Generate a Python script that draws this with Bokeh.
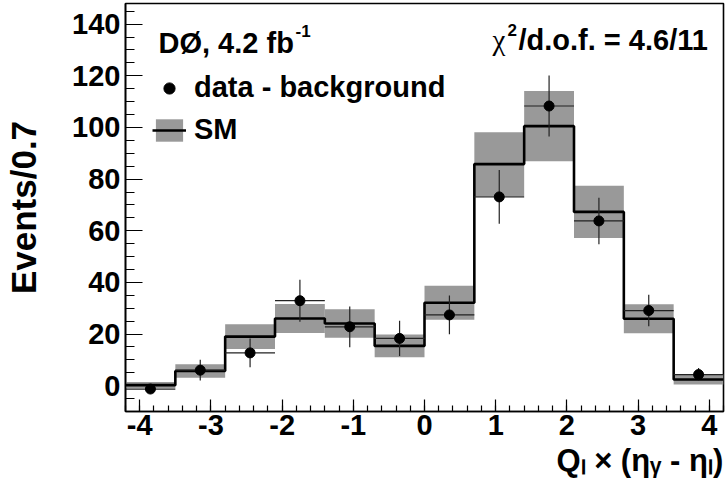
import math

from bokeh.embed import file_html
from bokeh.models import (Axis, ColumnDataSource, Label, Legend, LegendItem,
                          PrintfTickFormatter, SingleIntervalTicker)
from bokeh.plotting import figure
from bokeh.resources import INLINE

# Bin edges of the Q_l x (eta_gamma - eta_l) distribution (width 0.7)
edges = [-4.2, -3.5, -2.8, -2.1, -1.4, -0.7, 0.0, 0.7, 1.4, 2.1, 2.8, 3.5, 4.2]

# Standard Model prediction and its uncertainty band (half width)
sm = [0.2, 5.7, 19.0, 26.0, 24.1, 15.4, 32.1, 85.8, 100.5, 67.3, 25.9, 2.4]
sm_err = [1.2, 2.6, 4.8, 5.6, 5.5, 4.4, 6.6, 12.3, 13.6, 10.1, 5.6, 1.9]

# Background-subtracted data and statistical errors
data = [-1.3, 6.0, 12.7, 32.9, 22.8, 18.3, 27.4, 73.1, 108.3, 63.8, 29.1, 4.3]
data_err = [1.0, 4.0, 5.6, 8.1, 7.9, 6.8, 7.5, 10.4, 11.8, 9.0, 6.1, 2.5]

x_ticks_interval = 1
y_ticks_interval = 20

lefts = edges[:-1]
rights = edges[1:]
centers = [(a + b) / 2 for a, b in zip(lefts, rights)]

band = ColumnDataSource(dict(
    left=lefts, right=rights,
    bottom=[v - e for v, e in zip(sm, sm_err)],
    top=[v + e for v, e in zip(sm, sm_err)],
))
pts = ColumnDataSource(dict(
    x=centers, y=data, left=lefts, right=rights,
    lo=[v - e for v, e in zip(data, data_err)],
    hi=[v + e for v, e in zip(data, data_err)],
))

FONT = "Liberation Sans"
GREEK = "Liberation Serif"
TXT = "29px"

p = figure(
    width=725, height=494,
    x_range=(-4.2, 4.2), y_range=(-10, 148),
    output_backend="svg", toolbar_location=None,
    min_border_left=125, min_border_right=2,
    min_border_top=3, min_border_bottom=83,
    background_fill_color="white", border_fill_color="white",
)
p.grid.visible = False
p.outline_line_color = "black"
p.outline_line_width = 1.6

# Axes: ticks drawn inside the frame, ROOT-like bold labels
for ax in (p.xaxis[0], p.yaxis[0]):
    ax.axis_line_color = "black"
    ax.axis_line_width = 1.6
    ax.major_tick_line_color = "black"
    ax.minor_tick_line_color = "black"
    ax.major_tick_line_width = 1.2
    ax.minor_tick_line_width = 1.2
    ax.major_tick_out = 0
    ax.minor_tick_out = 0
    ax.major_label_text_font = FONT
    ax.major_label_text_font_style = "bold"
    ax.major_label_text_font_size = TXT
    ax.major_label_text_color = "black"
    ax.formatter = PrintfTickFormatter(format="%d")
    ax.axis_label_text_font = FONT
    ax.axis_label_text_font_style = "bold"
    ax.axis_label_text_color = "black"

p.xaxis.ticker = SingleIntervalTicker(interval=x_ticks_interval, num_minor_ticks=5)
p.yaxis.ticker = SingleIntervalTicker(interval=y_ticks_interval, num_minor_ticks=4)
p.xaxis.major_tick_in = 12
p.xaxis.minor_tick_in = 6
p.yaxis.major_tick_in = 17
p.yaxis.minor_tick_in = 9
p.xaxis.major_label_standoff = 3
p.yaxis.major_label_standoff = 5

p.yaxis.axis_label = "Events/0.7"
p.yaxis.axis_label_text_font_size = "35px"
p.yaxis.axis_label_standoff = 26

# x title is centred on the axis; leading no-break spaces push the visible
# text to the right end of the axis while the whole box stays on the canvas
x_title = "Q\u2097 \u00d7 (\u03b7\u1d67 - \u03b7\u2097)"
p.xaxis.axis_label = "\u00a0" * 50 + x_title
p.xaxis.axis_label_text_font_size = "31px"
p.xaxis.axis_label_standoff = 5
if "axis_label_align" in Axis.properties():
    p.xaxis.axis_label_align = "center"

# SM uncertainty band and central histogram
band_r = p.quad(left="left", right="right", bottom="bottom", top="top",
                source=band, fill_color="#999999", line_color=None)
step_r = p.step(x=edges, y=sm + [sm[-1]], mode="after",
                line_color="black", line_width=2.6)

# Data points with error bars
p.segment(x0="left", x1="right", y0="y", y1="y", source=pts,
          line_color="#222222", line_width=1.2)
p.segment(x0="x", x1="x", y0="lo", y1="hi", source=pts,
          line_color="#222222", line_width=1.2)
pts_r = p.scatter(x="x", y="y", source=pts, size=10, marker="circle",
                  fill_color="black", line_color="black")

legend = Legend(
    items=[
        LegendItem(label="data - background", renderers=[pts_r]),
        LegendItem(label="SM", renderers=[band_r, step_r]),
    ],
    location=(27, 265),
    orientation="vertical",
    padding=0, margin=0, spacing=9,
    glyph_width=34, glyph_height=28, label_standoff=8,
    label_text_font=FONT, label_text_font_style="bold",
    label_text_font_size=TXT, label_text_color="black",
    background_fill_alpha=0, border_line_alpha=0,
)
p.add_layout(legend)


def txt(text, x, y, size, font=FONT, style="bold", align="left"):
    p.add_layout(Label(
        x=x, y=y, x_units="screen", y_units="screen", text=text,
        text_font=font, text_font_style=style, text_font_size=size,
        text_align=align, text_baseline="alphabetic", text_color="black",
    ))


# Experiment / luminosity tag
txt("DØ, 4.2 fb", 33, 369, TXT)
txt("-1", 170, 381, "17px")

# Fit quality
txt("χ", 367, 372, "29px", font=GREEK, style="normal")
txt("2", 382, 382, "17px")
txt("/d.o.f. = 4.6/11", 393, 372, TXT)

open("out.html", "w").write(file_html(p, INLINE))
